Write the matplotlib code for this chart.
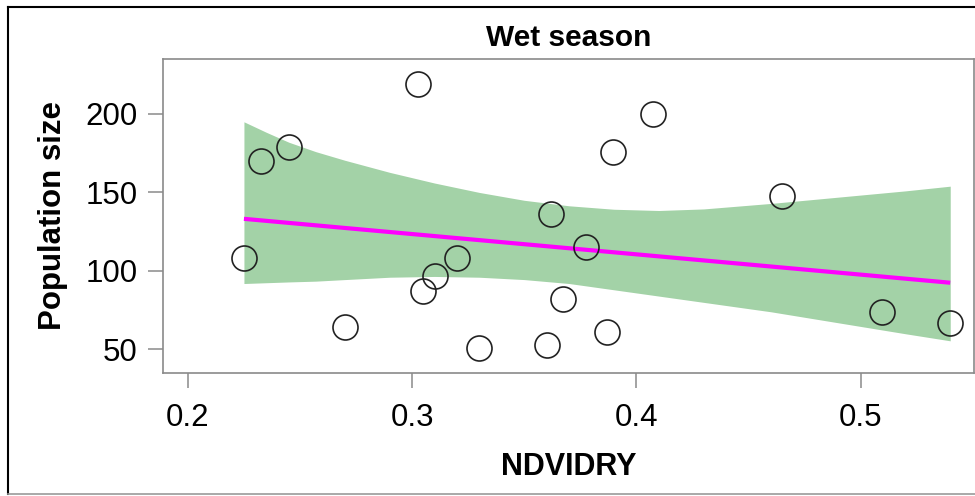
import matplotlib.pyplot as plt
from matplotlib.lines import Line2D

plt.rcParams["font.family"] = ["Liberation Sans", "DejaVu Sans"]

ndvi = [0.225, 0.2325, 0.245, 0.270, 0.3025, 0.3047, 0.310, 0.320, 0.330, 0.360,
        0.362, 0.3675, 0.3777, 0.387, 0.3898, 0.4076, 0.465, 0.5096, 0.540]
pop = [108, 170, 179, 64, 219, 87, 97, 108, 51, 53,
       136, 82, 115, 61, 176, 200, 148, 74, 67]

# fitted line and confidence band
fit_x = [0.225, 0.540]
fit_y = [133.2, 92.5]
band_x = [0.225, 0.235, 0.245, 0.257, 0.27, 0.29, 0.31, 0.33, 0.35, 0.37, 0.39,
          0.41, 0.43, 0.46, 0.49, 0.52, 0.54]
band_lo = [92, 92.5, 93, 93.5, 94.5, 96, 96.5, 96, 94.5, 92, 88, 84, 80, 74, 67, 60, 55.5]
band_hi = [195, 188.3, 182, 176, 170.5, 162.8, 156, 150, 145, 141.5, 139.3, 138.5,
           139.5, 143, 147, 151, 154]

xticks = [0.2, 0.3, 0.4, 0.5]
yticks = [50, 100, 150, 200]

fig = plt.figure(figsize=(9.75, 4.96), dpi=100)
ax = fig.add_axes([163 / 975, 1 - 373 / 496, 811 / 975, 314 / 496])

ax.fill_between(band_x, band_lo, band_hi, color="#a3d2a7", linewidth=0, zorder=1)
ax.plot(fit_x, fit_y, color="#ff00ff", lw=3, solid_capstyle="butt", zorder=2)
ax.plot(ndvi, pop, "o", ms=18, mfc="none", mec="#222222", mew=1.2, zorder=3)

ax.set_xlim(0.1889, 0.5506)
ax.set_ylim(35, 235)
ax.set_xticks(xticks)
ax.set_xticklabels([str(t) for t in xticks])
ax.set_yticks(yticks)

for sp in ax.spines.values():
    sp.set_color("#8a8a8a")
    sp.set_linewidth(1.2)
ax.tick_params(axis="both", direction="out", length=10.5, width=1.1,
               color="#8a8a8a", labelsize=22.5)
ax.tick_params(axis="x", pad=11)
ax.tick_params(axis="y", pad=8)

ax.set_title("Wet season", fontsize=21.5, fontweight="bold", pad=9)
ax.set_xlabel("NDVIDRY", fontsize=22, fontweight="bold", labelpad=14)
ax.set_ylabel("Population size", fontsize=22.5, fontweight="bold", labelpad=12)

# outer frame around the figure
fig.add_artist(Line2D([8 / 975, 8 / 975], [1 - 7 / 496, 1 - 494 / 496],
                      transform=fig.transFigure, color="black", lw=1.5))
fig.add_artist(Line2D([8 / 975, 1], [1 - 7 / 496, 1 - 7 / 496],
                      transform=fig.transFigure, color="black", lw=1.5))
fig.add_artist(Line2D([8 / 975, 1], [1 - 494 / 496, 1 - 494 / 496],
                      transform=fig.transFigure, color="#999999", lw=1.2))

fig.savefig("out.png", dpi=100)
